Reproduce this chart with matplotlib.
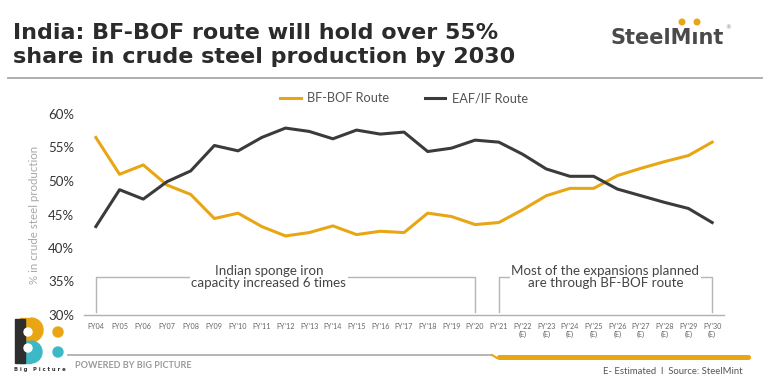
import numpy as np
import matplotlib.pyplot as plt
from matplotlib.patches import Rectangle, Circle, Wedge, FancyBboxPatch

# Share of crude steel production (%)
years = ["FY04", "FY05", "FY06", "FY07", "FY08", "FY09", "FY'10", "FY'11", "FY'12",
         "FY'13", "FY'14", "FY'15", "FY'16", "FY'17", "FY'18", "FY'19", "FY'20",
         "FY'21", "FY'22\n(E)", "FY'23\n(E)", "FY'24\n(E)", "FY'25\n(E)", "FY'26\n(E)",
         "FY'27\n(E)", "FY'28\n(E)", "FY'29\n(E)", "FY'30\n(E)"]
bf_bof = [56.5, 51.0, 52.4, 49.4, 48.0, 44.4, 45.2, 43.2, 41.8, 42.3, 43.3, 42.0, 42.5,
          42.3, 45.2, 44.7, 43.5, 43.8, 45.7, 47.8, 48.9, 48.9, 50.8, 51.9, 52.9, 53.8, 55.8]
eaf_if = [43.2, 48.7, 47.3, 49.9, 51.5, 55.3, 54.5, 56.5, 57.9, 57.4, 56.3, 57.6, 57.0,
          57.3, 54.4, 54.9, 56.1, 55.8, 54.0, 51.8, 50.7, 50.7, 48.8, 47.8, 46.8, 45.9, 43.8]
yticks = [30, 35, 40, 45, 50, 55, 60]

ORANGE = '#E8A615'
DARK = '#3b3b3b'
TEAL = '#3db8c6'

W, H = 773, 387
fig = plt.figure(figsize=(W / 100, H / 100), dpi=100)

# main chart axes (placed in pixel terms)
ax = fig.add_axes([84 / W, 1 - 315 / H, 640 / W, 201 / H])
x = np.arange(len(years))
ax.plot(x, bf_bof, color=ORANGE, lw=2.2, label='BF-BOF Route')
ax.plot(x, eaf_if, color=DARK, lw=2.2, label='EAF/IF Route')
ax.set_xlim(-0.5, len(years) - 0.5)
ax.set_ylim(30, 60)
ax.set_yticks(yticks)
ax.set_yticklabels([f"{v}%" for v in yticks], fontsize=9.5, color='#333333', family='Lato')
ax.set_xticks(x)
ax.set_xticklabels(years, fontsize=5.2, color='#666666', family='Lato', linespacing=1.0)
ax.tick_params(axis='both', length=0)
ax.tick_params(axis='y', pad=7)
ax.tick_params(axis='x', pad=6)
for s in ['top', 'right', 'left']:
    ax.spines[s].set_visible(False)
ax.spines['bottom'].set_color('#b0b0b0')
ax.spines['bottom'].set_linewidth(1)
ax.set_ylabel('% in crude steel production', fontsize=8.3, color='#a8a8a8', family='Lato', labelpad=6)

ax.legend(loc='upper center', bbox_to_anchor=(0.5, 1.165), ncol=2, frameon=False,
          handlelength=1.6, columnspacing=2.8, handletextpad=0.5,
          prop={'family': 'Lato', 'size': 9.2}, labelcolor='#555555')

# brackets with notes
btop, bbot = 35.7, 30.4
ax.plot([0, 0, 16, 16], [bbot, btop, btop, bbot], color='#b5b5b5', lw=1)
ax.plot([17, 17, 26, 26], [bbot, btop, btop, bbot], color='#b5b5b5', lw=1)
ax.text(7.3, btop, "Indian sponge iron\ncapacity increased 6 times", ha='center', va='center',
        fontsize=9.6, color='#444444', family='Lato', linespacing=1.0,
        bbox=dict(fc='white', ec='none', pad=1))
ax.text(21.5, btop, "Most of the expansions planned\nare through BF-BOF route", ha='center',
        va='center', fontsize=9.6, color='#444444', family='Lato', linespacing=1.0,
        bbox=dict(fc='white', ec='none', pad=1))

# decoration layer in pixel coordinates
deco = fig.add_axes([0, 0, 1, 1], zorder=-1)
deco.set_xlim(0, W)
deco.set_ylim(H, 0)
deco.axis('off')

fig.text(13 / W, 1 - 45 / H, "India: BF-BOF route will hold over 55%\nshare in crude steel production by 2030",
         fontsize=16, fontweight='bold', color='#2b2b2b', family='DejaVu Sans', va='center',
         linespacing=1.3)
deco.plot([8, 762], [78, 78], color='#a8a8a8', lw=1.3)

# SteelMint logo (dotless i, orange dots drawn separately)
deco.text(611, 38, "SteelM\u0131nt", fontsize=15, fontweight='bold', color='#4a4a4a',
          family='DejaVu Sans', va='center', ha='left')
deco.add_patch(Circle((682, 22), 2.8, color=ORANGE))
deco.add_patch(Circle((697, 22), 2.8, color=ORANGE))
deco.text(725, 28, "®", fontsize=4, color='#777777', ha='left', va='center')

# footer
deco.plot([68, 492], [355, 355], color='#a8a8a8', lw=1.2)
deco.plot([492, 497], [355, 358], color=ORANGE, lw=1.5)
deco.add_patch(FancyBboxPatch((497, 355), 254, 5, boxstyle='round,pad=0,rounding_size=2.5',
                              fc=ORANGE, ec='none'))
deco.text(75, 366, "POWERED BY BIG PICTURE", fontsize=6.5, color='#9a9a9a', family='Lato',
          fontweight='bold', va='center')
deco.text(743, 371, "E- Estimated  I  Source: SteelMint", fontsize=6.8, color='#555555',
          family='Lato', ha='right', va='center')

# Big Picture logo
deco.add_patch(Wedge((31, 330), 12, -90, 90, color=ORANGE))
deco.add_patch(Rectangle((20, 318), 11, 24, color=ORANGE))
deco.add_patch(Wedge((31, 352), 11, -90, 90, color=TEAL))
deco.add_patch(Rectangle((20, 341), 11, 22, color=TEAL))
deco.add_patch(Rectangle((15, 319), 10, 44, color='#2e2e2e'))
deco.add_patch(Circle((28, 332), 4, color='white'))
deco.add_patch(Circle((28, 348), 4, color='white'))
deco.add_patch(Circle((58, 332), 5, color=ORANGE))
deco.add_patch(Circle((58, 352), 5, color=TEAL))
deco.text(40, 370, "B i g   P i c t u r e", fontsize=3.8, color='#333333', fontweight='bold',
          ha='center', va='center')

fig.savefig('out.png', dpi=100)
